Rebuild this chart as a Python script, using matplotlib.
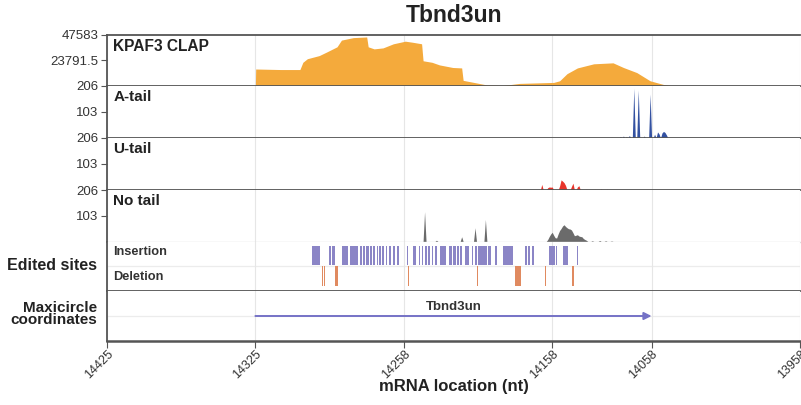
import numpy as np
import matplotlib
matplotlib.use("Agg")
import matplotlib.pyplot as plt

plt.rcParams['font.family'] = ['Liberation Sans', 'DejaVu Sans']

# ---------------- data ----------------
gene = "Tbnd3un"
tick_pos = [0, 100, 200, 300, 367, 467]
tick_labels = ["14425", "14325", "14258", "14158", "14058", "13958"]
n_nt = 468

# KPAF3 CLAP coverage (breakpoints of the profile)
clap_pos = [100, 100.2, 117, 130, 132, 135, 143, 148, 155, 158, 166, 175, 176, 180,
            186, 193, 201, 206, 212, 213, 219, 224, 233, 239, 240, 248, 256, 267,
            278, 301, 305, 310, 317, 328, 341, 348, 357, 366, 375, 382]
clap_val = [0, 15700, 15200, 15200, 21900, 25200, 28100, 31400, 36200, 42400, 44700,
            45300, 36200, 34300, 35200, 39000, 41400, 40400, 39000, 23300, 21900, 19500,
            17100, 16700, 5200, 3100, 950, 480, 2400, 3300, 4800, 11400, 16700, 20500,
            21400, 17100, 12400, 4800, 1400, 0]
clap_max = 47583

# tailed reads: position -> reads
atail_pos = [306, 340, 346, 348, 350, 352, 355, 358, 362, 366, 369, 371, 372, 374, 375, 376, 377]
atail_val = [2, 3, 6, 8, 6, 10, 197, 190, 8, 174, 15, 24, 16, 20, 26, 22, 12]

utail_pos = [293, 297, 298, 299, 300, 305, 306, 307, 308, 309, 313, 314, 317, 318,
             323, 326, 329, 333, 337]
utail_val = [22, 9, 12, 11, 12, 16, 40, 35, 29, 18, 14, 27, 12, 17, 3, 2, 3, 4, 3]

notail_pos = [214, 222, 239, 248, 255, 297, 298, 299, 300, 301, 302, 303, 304, 305,
              306, 307, 308, 309, 310, 311, 312, 313, 314, 315, 316, 317, 318, 319,
              320, 321, 322, 323, 327, 332, 336, 340]
notail_val = [119, 5, 19, 55, 88, 8, 20, 30, 37, 25, 15, 14, 30, 44, 52, 62, 67, 60,
              55, 51, 50, 46, 35, 23, 25, 27, 22, 20, 19, 12, 8, 5, 3, 4, 3, 2]
tail_max = 206

# edited sites
ins_start = [138.4, 149.8, 151.8, 158.6, 163.7, 170.5, 172.7, 174.5, 177.2, 179.5,
             181.7, 183.5, 185.3, 188.0, 190.0, 192.9, 195.6, 201.9, 206.0, 210.0,
             212.0, 214.3, 216.5, 218.8, 221.0, 224.4, 230.7, 233.4, 236.1, 237.9,
             241.5, 245.7, 248.0, 250.2, 257.0, 261.5, 266.6, 281.7, 283.9, 286.6,
             297.6, 302.6, 307.5, 316.5]
ins_end = [143.5, 150.7, 153.6, 162.6, 168.9, 171.6, 174.1, 176.3, 178.6, 180.8,
           182.6, 184.6, 186.7, 188.9, 191.4, 193.9, 196.8, 202.6, 208.2, 210.9,
           213.1, 215.6, 217.9, 219.9, 222.6, 228.4, 232.5, 235.0, 237.4, 239.0,
           243.7, 246.9, 249.3, 255.9, 258.8, 262.6, 273.8, 282.8, 285.0, 287.7,
           301.9, 303.5, 310.9, 317.2]
del_start = [144.7, 146.4, 153.6, 203.0, 249.1, 274.9, 295.1, 313.1]
del_end = [145.3, 147.1, 155.9, 203.7, 249.8, 278.8, 296.0, 314.7]

# gene on maxicircle
gene_start, gene_end = 100, 367

# ---------------- figure ----------------
W, H = 801, 405
fig = plt.figure(figsize=(W / 100, H / 100), dpi=100)

edges = [34.5, 86, 138, 190, 241.5, 291, 341]   # pixel rows of panel borders
left, right = 107, 800
dark = '#555555'
light = '#dddddd'

axes = []
for i in range(6):
    top, bot = edges[i], edges[i + 1]
    ax = fig.add_axes([left / W, 1 - bot / H, (right - left) / W, (bot - top) / H])
    ax.set_xlim(0, tick_pos[-1])
    ax.set_xticks(tick_pos)
    ax.xaxis.grid(True, color='#e6e6e6', lw=0.8, zorder=0)
    ax.set_axisbelow(True)
    ax.tick_params(axis='x', length=0, labelbottom=False)
    ax.tick_params(axis='y', length=4, color=dark, labelsize=9.5, labelcolor='#333333', pad=2)
    for s in ax.spines.values():
        s.set_color(dark)
        s.set_linewidth(1.3)
    ax.spines['right'].set_visible(False)
    if i > 0:
        ax.spines['top'].set_visible(False)
    axes.append(ax)

ax_clap, ax_a, ax_u, ax_n, ax_ed, ax_mc = axes

# coverage panel
ax_clap.fill_between(clap_pos, clap_val, 0, color='#f4aa3c', lw=0, zorder=2)
ax_clap.set_ylim(0, clap_max)
ax_clap.set_yticks([clap_max / 2, clap_max])
ax_clap.set_yticklabels(["23791.5", "47583"])

# tail panels
x = np.arange(n_nt)
for ax, pos, val, col, name in [(ax_a, atail_pos, atail_val, '#3351a1', 'A-tail'),
                                (ax_u, utail_pos, utail_val, '#e8352b', 'U-tail'),
                                (ax_n, notail_pos, notail_val, '#6b6b6b', 'No tail')]:
    cov = np.zeros(n_nt)
    cov[pos] = val
    ax.fill_between(x, cov, 0, color=col, lw=0, zorder=2)
    ax.set_ylim(0, tail_max)
    ax.set_yticks([103, 206])
    ax.set_yticklabels(["103", "206"])
    ax.text(0.009, 0.92, name, transform=ax.transAxes, ha='left', va='top',
            fontsize=11, fontweight='bold', color='#222222')
ax_clap.text(0.009, 0.92, "KPAF3 CLAP", transform=ax_clap.transAxes, ha='left', va='top',
             fontsize=11.2, fontweight='bold', color='#222222')
ax_n.spines['bottom'].set_color(light)
ax_n.spines['bottom'].set_linewidth(1)

# edited sites
ax_ed.set_ylim(0, 2)
ax_ed.set_yticks([])
ax_ed.axhline(1.0, color='#ececec', lw=0.9, zorder=0)
ax_ed.broken_barh([(s, e - s) for s, e in zip(ins_start, ins_end)], (1.05, 0.77),
                  facecolors='#8b85c6', zorder=2)
ax_ed.broken_barh([(s, e - s) for s, e in zip(del_start, del_end)], (0.2, 0.8),
                  facecolors='#e08a60', zorder=2)
ax_ed.text(0.009, 0.78, "Insertion", transform=ax_ed.transAxes, ha='left', va='center',
           fontsize=9.2, fontweight='bold', color='#333333')
ax_ed.text(0.009, 0.29, "Deletion", transform=ax_ed.transAxes, ha='left', va='center',
           fontsize=9.2, fontweight='bold', color='#333333')

# maxicircle coordinates
ax_mc.set_ylim(0, 2)
ax_mc.set_yticks([])
ax_mc.axhline(1.0, color='#ececec', lw=0.9, zorder=0)
ax_mc.annotate("", xy=(gene_end, 1.0), xytext=(gene_start, 1.0),
               arrowprops=dict(arrowstyle='-|>', color='#7572c6', lw=1.4,
                               mutation_scale=11, shrinkA=0, shrinkB=0), zorder=3)
ax_mc.text((gene_start + gene_end) / 2, 1.12, gene, ha='center', va='bottom',
           fontsize=9.5, fontweight='bold', color='#333333')
ax_mc.tick_params(axis='x', length=5, color=dark, labelbottom=True, labelsize=9,
                  labelcolor='#333333', pad=0)
ax_mc.set_xticklabels(tick_labels, rotation=45, ha='right', rotation_mode='anchor')
ax_mc.spines['bottom'].set_linewidth(1.8)

# figure-level text
cx = (left + right) / 2 / W
fig.text(cx, 1 - 15 / H, gene, ha='center', va='center', fontsize=16.5, fontweight='bold',
         color='#222222')
fig.text(cx, 1 - 387 / H, "mRNA location (nt)", ha='center', va='center', fontsize=12,
         fontweight='bold', color='#222222')
fig.text(97 / W, 1 - 266 / H, "Edited sites", ha='right', va='center', fontsize=11.5,
         fontweight='bold', color='#222222')
fig.text(97 / W, 1 - 314 / H, "Maxicircle\ncoordinates", ha='right', va='center',
         multialignment='right', fontsize=11, fontweight='bold', color='#222222',
         linespacing=0.85)

fig.savefig("out.png", dpi=100)
